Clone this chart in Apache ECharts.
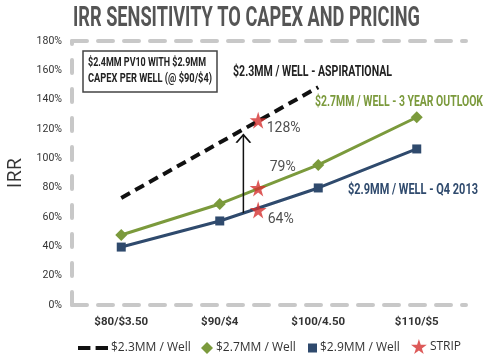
<!DOCTYPE html>
<html><head><meta charset="utf-8">
<script src="https://cdn.jsdelivr.net/npm/echarts@6/dist/echarts.min.js"></script>
<style>html,body{margin:0;padding:0;background:#fff}#c{width:493px;height:361px}</style>
</head><body><div id="c"></div>
<script>
const categories = ['$80/$3.50', '$90/$4', '$100/4.50', '$110/$5'];
const yTicks = [0, 20, 40, 60, 80, 100, 120, 140, 160, 180];
const aspirational = [73, null, 148.5, null];      // $2.3MM / Well (dashed)
const outlook = [47.7, 68.9, 95.5, 128];           // $2.7MM / Well
const q42013 = [39.5, 57.3, 79.8, 106.4];          // $2.9MM / Well
const stripX = [1.89, 1.89, 1.89];                 // between $90 and $100 (category units)
const stripY = [126, 79.8, 64.8];
const stripLabels = ['128%', '79%', '64%'];
const arrowX = [1.74, 1.74];
const arrowY = [62.7, 116];
const legendNames = ['$2.3MM / Well', '$2.7MM / Well', '$2.9MM / Well', 'STRIP'];

const FONT = 'Roboto,"DejaVu Sans",sans-serif';
const STAR = 'path://M50,0 L61,35 L98,35 L68,57 L79,91 L50,70 L21,91 L32,57 L2,35 L39,35 Z';
const DASH2 = 'path://M0,0 L12,0 L12,4 L0,4 Z M17,0 L29,0 L29,4 L17,4 Z';
const gridLine = {color: '#c8c8c8', width: 4, type: [15, 11]};

// condensed text helper: horizontal scale so that text fits given width
const mctx = document.createElement('canvas').getContext('2d');
function fit(text, size, weight, width) {
  mctx.font = weight + ' ' + size + 'px ' + FONT;
  return width / mctx.measureText(text).width;
}
function ctext(text, x, y, size, width, color, weight) {
  weight = weight || 'bold';
  return {type: 'text', x: x, y: y, scaleX: fit(text, size, weight, width), z: 10,
          style: {text: text, fontFamily: FONT, fontWeight: weight, fontSize: size, fill: color,
                  textVerticalAlign: 'middle', verticalAlign: 'middle'}};
}

const chart = echarts.init(document.getElementById('c'), null, {renderer: 'canvas'});
const labelOffsets = [[-5, 8], [-2, -20], [-4, 10]];
const legendPos = [{left: 78, w: 30, h: 5, icon: DASH2}, {left: 201, w: 12, h: 12, icon: 'diamond'},
                   {left: 308, w: 9, h: 9, icon: 'rect'}, {left: 411, w: 16, h: 15, icon: STAR}];
chart.setOption({
  animation: false,
  backgroundColor: '#ffffff',
  grid: {left: 72, right: 27, top: 41, bottom: 56, outerBoundsMode: 'none', containLabel: false},
  legend: legendPos.map((p, i) => ({
    bottom: 7, left: p.left, itemWidth: p.w, itemHeight: p.h, itemGap: 4, padding: 0,
    icon: p.icon, selectedMode: false,
    textStyle: {fontFamily: '"Open Sans",sans-serif', fontSize: 12, color: '#333', padding: [0, 0, 0, -2]},
    data: [legendNames[i]]
  })),
  xAxis: [{
    type: 'category', data: categories, boundaryGap: true,
    axisLine: {show: true, lineStyle: gridLine},
    axisTick: {show: false},
    axisLabel: {fontFamily: FONT, fontWeight: 'bold', fontSize: 11.5, color: '#333', margin: 11},
    splitLine: {show: false}
  }, {
    type: 'value', position: 'top', min: 0, max: 4,
    axisLine: {show: true, onZero: false, lineStyle: gridLine},
    axisTick: {show: false}, axisLabel: {show: false}, splitLine: {show: false}
  }],
  yAxis: {
    type: 'value', min: yTicks[0], max: yTicks[yTicks.length - 1], interval: 20,
    name: 'IRR', nameLocation: 'middle', nameGap: 44,
    nameTextStyle: {fontFamily: '"Open Sans",sans-serif', fontWeight: 'normal', fontSize: 20, color: '#333'},
    axisLine: {show: true, lineStyle: {color: '#c8c8c8', width: 4, type: [13, 16]}},
    axisTick: {show: false},
    axisLabel: {formatter: '{value}%', fontFamily: FONT, fontSize: 10.5, color: '#333', margin: 10},
    splitLine: {show: false}
  },
  graphic: [
    ctext('IRR SENSITIVITY TO CAPEX AND PRICING', 73, 19, 28, 347, '#555555'),
    {type: 'rect', shape: {x: 83, y: 51, width: 134, height: 41},
     style: {fill: '#fff', stroke: '#444', lineWidth: 1.5}},
    ctext('$2.4MM PV10 WITH $2.9MM', 88, 63, 12.5, 118, '#222'),
    ctext('CAPEX PER WELL (@ $90/$4)', 88, 79, 12.5, 124, '#222'),
    ctext('$2.3MM / WELL - ASPIRATIONAL', 233, 72, 15, 159, '#222'),
    ctext('$2.7MM / WELL - 3 YEAR OUTLOOK', 315, 102, 15, 168, '#7b9a3c'),
    ctext('$2.9MM / WELL - Q4 2013', 348, 190, 15, 130, '#2f4a6d')
  ],
  series: [
    {
      name: legendNames[0], type: 'line', data: aspirational, connectNulls: true,
      symbol: 'none', z: 3,
      lineStyle: {color: '#111', width: 4, type: [10, 6]},
      itemStyle: {color: '#111'}
    },
    {
      name: legendNames[1], type: 'line', data: outlook,
      symbol: 'diamond', symbolSize: 12, z: 4,
      lineStyle: {color: '#7b9a3c', width: 3},
      itemStyle: {color: '#7b9a3c'}
    },
    {
      name: legendNames[2], type: 'line', data: q42013,
      symbol: 'rect', symbolSize: 9, z: 4,
      lineStyle: {color: '#2f4a6d', width: 3},
      itemStyle: {color: '#2f4a6d'}
    },
    {
      name: 'arrow', type: 'line', xAxisIndex: 1, z: 5,
      data: arrowX.map((x, i) => ({
        value: [x, arrowY[i]],
        symbol: i === 1 ? 'path://M0,10 L5,0 L10,10' : 'none',
        symbolSize: [14, 8], symbolOffset: [0, 4]
      })),
      showSymbol: true,
      lineStyle: {color: '#111', width: 1.5},
      itemStyle: {color: 'rgba(0,0,0,0)', borderColor: '#111', borderWidth: 1.5},
      silent: true, legendHoverLink: false
    },
    {
      name: legendNames[3], type: 'scatter', xAxisIndex: 1, z: 6,
      symbol: STAR, symbolSize: 17,
      itemStyle: {color: '#d4312f'},
      data: stripX.map((x, i) => ({
        value: [x, stripY[i]],
        label: {show: true, position: 'right', offset: labelOffsets[i], formatter: stripLabels[i],
                fontFamily: FONT, fontSize: 14, color: '#222'}
      }))
    }
  ]
});
</script></body></html>
